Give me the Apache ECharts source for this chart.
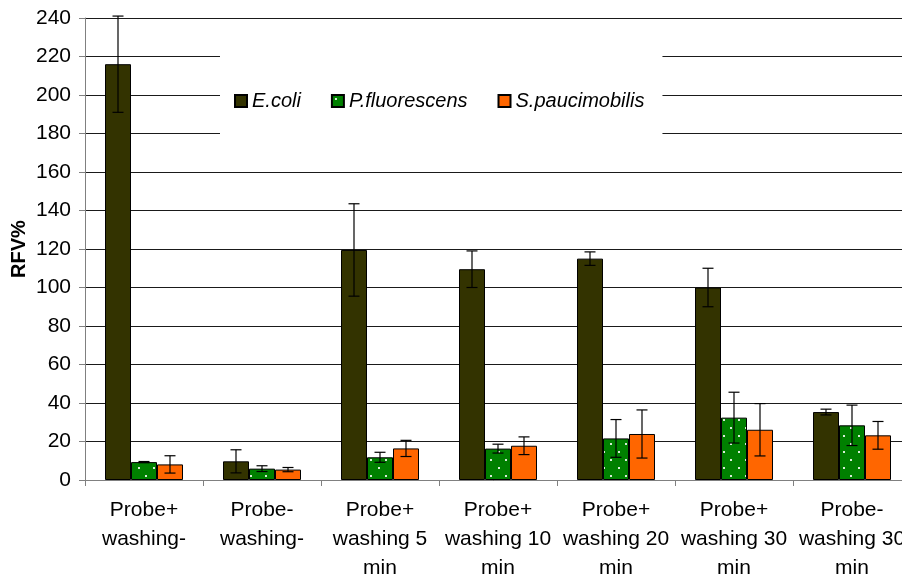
<!DOCTYPE html>
<html>
<head>
<meta charset="utf-8">
<script src="https://cdn.jsdelivr.net/npm/echarts@6/dist/echarts.min.js"></script>
<style>html,body{margin:0;padding:0;background:#fff}#c{width:902px;height:577px}</style>
</head>
<body>
<div id="c"></div>
<script>
const categories = ['Probe+\nwashing-', 'Probe-\nwashing-', 'Probe+\nwashing 5\nmin', 'Probe+\nwashing 10\nmin', 'Probe+\nwashing 20\nmin', 'Probe+\nwashing 30\nmin', 'Probe-\nwashing 30\nmin'];
const seriesNames = ['E.coli', 'P.fluorescens', 'S.paucimobilis'];
const ecoli = [216, 9.7, 119.5, 109.5, 115, 100, 35.3];
const ecoliErr = [25, 6, 24, 9.5, 3.5, 10, 1.5];
const pflu = [9.3, 5.9, 11.8, 16.3, 21.6, 32.4, 28.4];
const pfluErr = [0.3, 1.5, 2.6, 2.3, 9.8, 13.2, 10.5];
const spau = [8.1, 5.4, 16.4, 17.8, 23.9, 26.1, 23.2];
const spauErr = [4.5, 1.1, 4.2, 4.6, 12.5, 13.6, 7.2];
const yTicks = [0, 20, 40, 60, 80, 100, 120, 140, 160, 180, 200, 220, 240];

const FONT = 'Liberation Sans, Arial, sans-serif';
const BAR_W = 26;

// dotted green pattern
const pc = document.createElement('canvas');
pc.width = 15; pc.height = 16;
const px = pc.getContext('2d');
px.fillStyle = '#008000';
px.fillRect(0, 0, 15, 16);
px.fillStyle = '#d8ecd8';
px.fillRect(3, 3, 2, 2);
px.fillRect(10, 11, 2, 2);

const colors = ['#333300', {image: pc, repeat: 'repeat'}, '#FF6600'];
const values = [ecoli, pflu, spau];
const errs = [ecoliErr, pfluErr, spauErr];

const chart = echarts.init(document.getElementById('c'), null, {renderer: 'canvas'});

const barSeries = values.map((v, i) => ({
  name: seriesNames[i],
  type: 'bar',
  data: v,
  barWidth: BAR_W,
  barGap: '0%',
  itemStyle: {color: colors[i], borderColor: '#000', borderWidth: 1},
  emphasis: {disabled: true},
  z: 2
}));

const errSeries = values.map((v, i) => ({
  name: seriesNames[i] + ' err',
  type: 'custom',
  data: v.map((val, k) => [k, val, errs[i][k]]),
  z: 5,
  silent: true,
  renderItem: function (params, api) {
    const k = api.value(0), val = api.value(1), e = api.value(2);
    const off = (i - 1) * BAR_W;
    const top = api.coord([k, val + e]);
    const bot = api.coord([k, Math.max(val - e, 0)]);
    const x = top[0] + off;
    const cap = 5.5;
    const st = {stroke: '#000', lineWidth: 1.2};
    return {
      type: 'group',
      children: [
        {type: 'line', shape: {x1: x, y1: top[1], x2: x, y2: bot[1]}, style: st},
        {type: 'line', shape: {x1: x - cap, y1: top[1], x2: x + cap, y2: top[1]}, style: st},
        {type: 'line', shape: {x1: x - cap, y1: bot[1], x2: x + cap, y2: bot[1]}, style: st}
      ]
    };
  }
}));

chart.setOption({
  animation: false,
  backgroundColor: '#fff',
  textStyle: {fontFamily: FONT},
  grid: {left: 85, right: -9, top: 18, bottom: 97, containLabel: false, outerBoundsMode: 'none'},
  legend: {
    data: seriesNames.map((n, i) => ({name: n})),
    left: 220, top: 50,
    padding: [41, 18, 36, 14],
    backgroundColor: '#fff',
    itemWidth: 12, itemHeight: 12, itemGap: 30,
    icon: 'rect',
    textStyle: {fontFamily: FONT, fontSize: 20, fontStyle: 'italic', color: '#000', padding: [0, 0, 0, 0]},
    selectedMode: false,
    z: 10
  },
  xAxis: {
    type: 'category',
    data: categories,
    boundaryGap: true,
    axisLine: {lineStyle: {color: '#808080', width: 1}},
    axisTick: {show: true, length: 6, lineStyle: {color: '#808080'}},
    axisLabel: {fontFamily: FONT, fontSize: 21, color: '#000', lineHeight: 29, margin: 16, interval: 0},
    splitLine: {show: false}
  },
  yAxis: {
    type: 'value',
    min: yTicks[0], max: yTicks[yTicks.length - 1], interval: yTicks[1] - yTicks[0],
    name: 'RFV%',
    nameLocation: 'middle',
    nameGap: 56,
    nameMoveOverlap: false,
    nameRotate: 90,
    nameTextStyle: {fontFamily: FONT, fontSize: 20, fontWeight: 'bold', color: '#000'},
    axisLine: {show: true, lineStyle: {color: '#808080'}},
    axisTick: {show: true, length: 6, lineStyle: {color: '#808080'}},
    axisLabel: {fontFamily: FONT, fontSize: 21, color: '#000', margin: 14,
      formatter: v => yTicks.includes(v) ? String(v) : ''},
    splitLine: {show: true, lineStyle: {color: '#1a1a1a', width: 1}}
  },
  series: barSeries.concat(errSeries)
});
</script>
</body>
</html>
